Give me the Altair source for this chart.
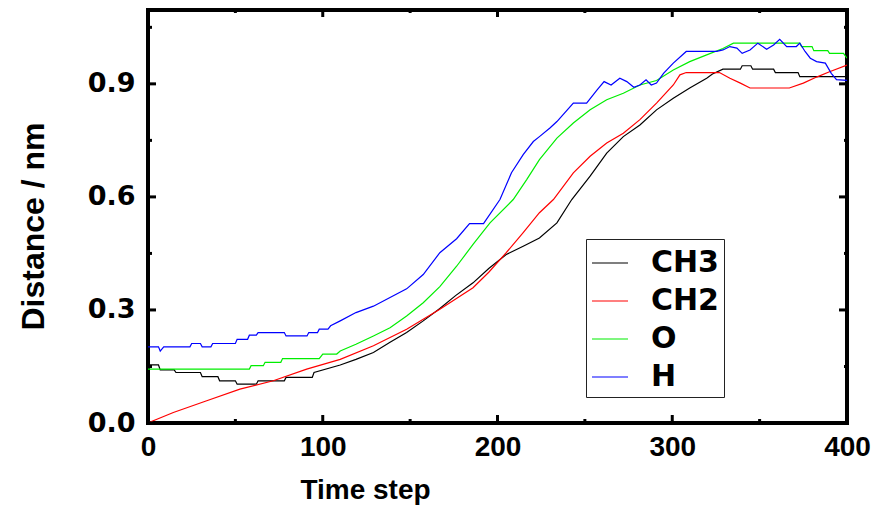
import altair as alt
import pandas as pd

# ---- data ----
series_names = ["CH3", "CH2", "O", "H"]
series_colors = ["#000000", "#ff0000", "#00ee00", "#0000ff"]

x_ch3 = [0, 6, 7, 15, 16, 30, 31, 40, 41, 50, 51, 62, 63, 78, 79, 94, 95, 110, 119, 129,
         138.5, 148, 157.5, 167, 176, 186, 195, 205, 214.7, 224, 234, 242.5, 253, 262.5,
         272, 281.5, 291, 300.6, 310, 319.7, 323, 329, 339, 340, 345, 346, 358, 359, 372,
         373, 400]
y_ch3 = [0.154, 0.154, 0.141, 0.141, 0.134, 0.134, 0.123, 0.123, 0.112, 0.112, 0.103,
         0.103, 0.112, 0.112, 0.121, 0.121, 0.134, 0.154, 0.169, 0.187, 0.214, 0.240,
         0.271, 0.304, 0.338, 0.372, 0.410, 0.447, 0.469, 0.491, 0.531, 0.593, 0.655,
         0.716, 0.760, 0.791, 0.831, 0.862, 0.889, 0.915, 0.926, 0.939, 0.939, 0.948,
         0.948, 0.939, 0.939, 0.930, 0.930, 0.919, 0.919]

x_ch2 = [0, 3, 14.5, 33.6, 52.6, 71.7, 90.8, 110, 129, 148, 167, 186, 195, 205, 214.7,
         224, 232, 243.4, 253, 262.5, 272, 281.5, 291, 300.6, 304.4, 308, 327, 333, 339,
         344.5, 367, 375, 382.6, 390, 400]
y_ch2 = [0.0, 0.006, 0.028, 0.059, 0.090, 0.112, 0.143, 0.169, 0.205, 0.249, 0.302,
         0.359, 0.400, 0.452, 0.505, 0.558, 0.593, 0.664, 0.708, 0.743, 0.769, 0.805,
         0.849, 0.897, 0.924, 0.930, 0.930, 0.915, 0.902, 0.889, 0.889, 0.902, 0.918,
         0.932, 0.950]

x_o = [0, 58, 59, 66, 67, 76, 77, 98, 100, 108, 110, 119, 129, 138.5, 148, 157.5, 167,
       176.6, 186, 195.7, 209, 216.7, 224, 234, 243.4, 253, 262.5, 272, 281.5, 291,
       300.6, 310, 319.7, 329, 335, 373, 374, 380, 381, 389, 390, 398, 400]
y_o = [0.143, 0.143, 0.152, 0.152, 0.161, 0.161, 0.171, 0.171, 0.183, 0.183, 0.191,
       0.209, 0.231, 0.253, 0.284, 0.319, 0.362, 0.416, 0.474, 0.531, 0.593, 0.646,
       0.699, 0.756, 0.796, 0.831, 0.858, 0.875, 0.897, 0.909, 0.937, 0.959, 0.977,
       0.994, 1.008, 1.008, 0.999, 0.999, 0.988, 0.988, 0.981, 0.981, 0.968]

x_h = [0, 6, 7, 9, 24, 25, 30, 31, 36, 37, 50, 51, 57, 58, 62, 63, 78, 79, 91, 92, 97,
       98, 103, 104.5, 110, 119, 129, 138.5, 148, 157.5, 167, 176.6, 184, 192, 201.4,
       208, 214.7, 220.5, 224, 230, 234, 243.4, 251, 257, 261, 265, 270, 274, 278,
       281.5, 285, 288, 291, 295, 300.6, 308, 325.5, 329, 333, 337, 340, 344.5, 349,
       354, 358, 361.5, 365.5, 371, 373, 376, 379, 382.6, 387.6, 391, 394, 400]
y_h = [0.202, 0.202, 0.191, 0.202, 0.202, 0.211, 0.211, 0.202, 0.202, 0.211, 0.211,
       0.222, 0.222, 0.233, 0.233, 0.240, 0.240, 0.231, 0.231, 0.240, 0.240, 0.249,
       0.249, 0.258, 0.271, 0.293, 0.310, 0.333, 0.356, 0.394, 0.452, 0.489, 0.529,
       0.529, 0.593, 0.664, 0.712, 0.747, 0.760, 0.783, 0.800, 0.849, 0.849, 0.884,
       0.906, 0.897, 0.915, 0.906, 0.891, 0.897, 0.911, 0.897, 0.902, 0.928, 0.955,
       0.986, 0.986, 0.990, 0.999, 0.995, 0.981, 0.990, 1.008, 0.992, 1.003, 1.018,
       0.999, 0.999, 1.008, 0.986, 0.968, 0.959, 0.955, 0.928, 0.911, 0.909]

x_major = [0, 100, 200, 300, 400]
x_minor = [50, 150, 250, 350]
y_major = [0.0, 0.3, 0.6, 0.9]
y_minor = [0.15, 0.45, 0.75, 1.05]

# ---- build ----
frames = []
for name, xs, ys in zip(series_names, [x_ch3, x_ch2, x_o, x_h], [y_ch3, y_ch2, y_o, y_h]):
    frames.append(pd.DataFrame({"step": xs, "dist": ys, "group": name}))
df = pd.concat(frames, ignore_index=True)

W, H = 699, 413
xscale = alt.Scale(domain=[0, 400], nice=False, zero=False)
yscale = alt.Scale(domain=[0, 1.096], nice=False, zero=False)

x_axis = alt.Axis(values=x_major, title="Time step", labelFont="Liberation Sans",
                  labelFontSize=28, labelFontWeight="bold", labelPadding=10,
                  labelFlush=False, labelOverlap=False,
                  titleFont="Liberation Sans", titleFontSize=28, titleFontWeight="bold",
                  titleX=217, titleY=75, titleBaseline="alphabetic", titleAnchor="middle")
y_axis = alt.Axis(values=y_major, format=".1f", title="Distance / nm",
                  labelFont="DejaVu Sans", labelFontSize=27, labelFontWeight="bold",
                  labelPadding=13, labelFlush=False, labelOverlap=False,
                  titleFont="Liberation Sans", titleFontSize=32,
                  titleFontWeight="bold", titleX=-105, titleY=216,
                  titleBaseline="alphabetic", titleAngle=270)

lines = alt.Chart(df).mark_line(strokeWidth=1.2, clip=True).encode(
    x=alt.X("step:Q", scale=xscale, axis=x_axis),
    y=alt.Y("dist:Q", scale=yscale, axis=y_axis),
    color=alt.Color("group:N",
                    scale=alt.Scale(domain=series_names, range=series_colors),
                    legend=alt.Legend(title=None, orient="none", legendX=438, legendY=229,
                                      symbolType="stroke", symbolSize=1300,
                                      symbolStrokeWidth=1.2, labelFont="DejaVu Sans",
                                      labelFontSize=30, labelFontWeight="bold",
                                      labelOffset=22, rowPadding=4, padding=5,
                                      strokeColor="#222222", fillColor="white")),
)


def xticks(vals, y0, y1):
    return alt.Chart(pd.DataFrame({"step": vals})).mark_rule(color="black", strokeWidth=3).encode(
        x=alt.X("step:Q", scale=xscale, axis=x_axis), y=alt.value(y0), y2=alt.value(y1))


def yticks(vals, x0, x1):
    return alt.Chart(pd.DataFrame({"dist": vals})).mark_rule(color="black", strokeWidth=3).encode(
        y=alt.Y("dist:Q", scale=yscale, axis=y_axis), x=alt.value(x0), x2=alt.value(x1))


ticks = [
    xticks(x_major, H, H - 8), xticks(x_minor, H, H - 4),
    xticks(x_major, 0, 7), xticks(x_minor, 0, 3),
    yticks(y_major, 0, 8), yticks(y_minor, 0, 4),
    yticks(y_major, W, W - 8), yticks(y_minor, W, W - 3),
]

chart = alt.layer(lines, *ticks).properties(
    width=W, height=H,
    padding={"left": 140, "top": 2, "right": 27, "bottom": 84},
    autosize="none",
).configure_view(stroke="black", strokeWidth=4).configure_axis(
    domain=False, ticks=False, grid=False, labelColor="black", titleColor="black"
)

chart.save("out.html", embed_options={"renderer": "svg", "actions": False})
